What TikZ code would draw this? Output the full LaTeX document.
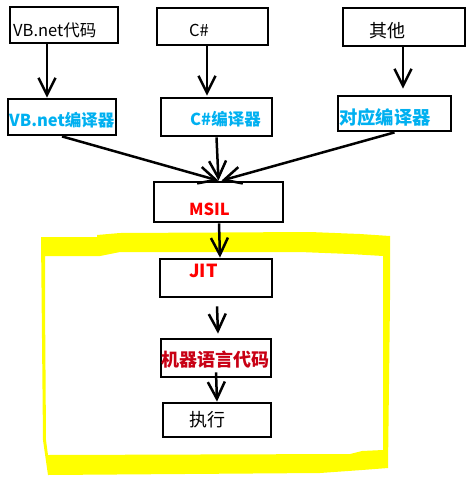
\documentclass[tikz,border=0pt]{standalone}
\usepackage{fontspec}
\setmainfont{Noto Sans CJK SC}
\usetikzlibrary{arrows.meta}
\definecolor{cy}{RGB}{0,176,240}
\definecolor{rd}{RGB}{255,0,0}
\definecolor{drd}{RGB}{200,0,20}
\definecolor{yl}{RGB}{255,255,0}
\begin{document}
\begin{tikzpicture}[x=1pt,y=-1pt,
  box/.style={draw=black,line width=2.8pt,inner sep=0pt},
  lbl/.style={anchor=west,inner sep=0pt,font=\fontsize{16.5}{16}\selectfont},
  blbl/.style={anchor=west,inner sep=0pt,font=\fontsize{16.5}{16}\selectfont\bfseries},
  arr/.style={line width=2.5pt,-{Straight Barb[length=17pt,width=17pt,line width=2.5pt]}}]
\useasboundingbox (0,0) rectangle (472,480);
% yellow frame
\fill[yl,even odd rule]
  (41,237) -- (97,237) -- (97,235) -- (120,233) -- (310,232) -- (360,234) -- (390,236)
  -- (390,300) -- (388,468) -- (362,470) -- (320,473) -- (48,475) -- (43,440) -- cycle
  (45,256) -- (100,256) -- (120,252) -- (300,252) -- (350,254) -- (383,256)
  -- (383,450) -- (362,451) -- (350,454) -- (48,455) -- (46,440) -- (45,300) -- cycle;
% boxes
\node[box,minimum width=108pt,minimum height=36pt] (vb) at (64,25) {};
\node[box,minimum width=111pt,minimum height=37pt] (cs) at (212.5,26.5) {};
\node[box,minimum width=122pt,minimum height=38pt] (qt) at (404,27) {};
\node[box,minimum width=108pt,minimum height=36pt] (vbc) at (62,117) {};
\node[box,minimum width=111pt,minimum height=38pt] (csc) at (216.5,117) {};
\node[box,minimum width=113pt,minimum height=35pt] (dyc) at (394.5,113.5) {};
\node[box,minimum width=129pt,minimum height=40pt] (msil) at (218.5,202) {};
\node[box,minimum width=112pt,minimum height=38pt] (jit) at (216,278) {};
\node[box,minimum width=110pt,minimum height=38pt] (mc) at (216,358) {};
\node[box,minimum width=108pt,minimum height=34pt] (zx) at (217,420) {};
% texts
\node[lbl] (t1) at (13,30) {VB.net代码};
\node[lbl] (t2) at (189,30) {C\#};
\node[lbl,font=\fontsize{18}{18}\selectfont] (t3) at (369,31) {其他};
\node[blbl,text=cy] (t4) at (9,120) {VB.net编译器};
\node[blbl,text=cy] (t5) at (190,119) {C\#编译器};
\node[blbl,text=cy,font=\fontsize{18.3}{18}\selectfont\bfseries] (t6) at (339,118) {对应编译器};
\node[blbl,text=rd] (t7) at (189,209) {MSIL};
\node[blbl,text=rd,font=\fontsize{18}{18}\selectfont\bfseries] (t8) at (189,271) {JIT};
\node[blbl,text=drd,font=\fontsize{18}{18}\selectfont\bfseries] (t9) at (161,360) {机器语言代码};
\node[lbl,font=\fontsize{18}{18}\selectfont] (t10) at (189,420) {执行};
% connectors
\draw[arr] ([xshift=-17pt]vb.south) -- ([xshift=-15pt]vbc.north);
\draw[arr] ([xshift=-5.5pt]cs.south) -- ([xshift=-9.5pt,yshift=1pt]csc.north);
\draw[arr] ([xshift=-1pt]qt.south) -- ([xshift=8.5pt,yshift=6pt]dyc.north);
\draw[arr] (vbc.south) -- (msil.north);
\draw[arr] (csc.south) -- (msil.north);
\draw[arr] (dyc.south) -- ([xshift=3pt]msil.north);
\draw[arr] ([xshift=0.5pt]msil.south) -- ([xshift=4pt]jit.north);
\draw[arr] ([xshift=1pt,yshift=-8pt]jit.south) -- ([xshift=2pt,yshift=4pt]mc.north);
\draw[arr] ([yshift=6pt]mc.south) -- (zx.north);
\end{tikzpicture}
\end{document}
